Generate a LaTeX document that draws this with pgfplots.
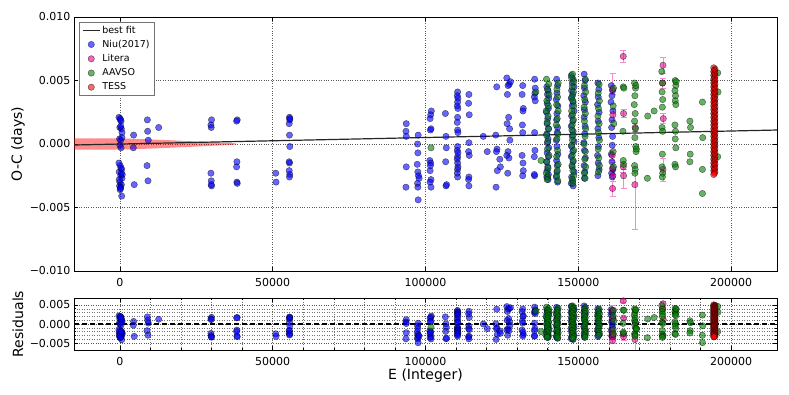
\documentclass[border=0pt]{standalone}
\usepackage{pgfplots}
\pgfplotsset{compat=1.18}
\usepackage{pgfplotstable}
\usepackage{fontspec}
\setmainfont{DejaVu Sans}

% O-C values in units of 1e-3 days
\pgfplotstableread[row sep=\\]{
x y\\
-300 2.1\\ 100 2.0\\ 400 1.8\\ 0 1.3\\ 500 1.2\\ 700 0.9\\ -100 0.4\\ 300 0.3\\ 0 -0.1\\ 400 -0.3\\
100 -1.7\\ 600 -2.0\\ -200 -2.2\\ 300 -2.5\\ 700 -2.7\\ 0 -3.0\\ 500 -3.2\\ -100 -3.3\\ 300 -3.4\\ 100 -3.6\\
600 -4.1\\ 200 1.9\\ 800 -2.4\\ -300 -1.5\\ 700 0.5\\ 200 -3.5\\ 500 -2.3\\ 300 1.4\\ -200 -2.8\\ 400 -1.9\\
4500 0.7\\ 4400 -0.3\\ 4700 -3.2\\
9000 1.9\\ 9100 1.0\\ 9300 0.3\\ 8900 -1.7\\ 9200 -2.9\\
12700 1.3\\
30000 1.9\\ 29800 1.5\\ 29900 1.3\\ 29800 -2.3\\ 29900 -2.9\\ 30000 -3.3\\ 29900 -3.2\\
38400 1.9\\ 38200 1.8\\ 38300 -1.4\\ 38200 -1.8\\ 38300 -3.0\\ 38400 -3.1\\
51000 -2.3\\ 51100 -3.0\\
55500 2.1\\ 55600 1.9\\ 55400 1.6\\ 55500 0.7\\ 55600 -0.2\\ 55500 -1.5\\ 55400 -2.1\\ 55600 -2.4\\ 55500 -2.6\\ 55600 2.0\\ 55400 -1.4\\
93700 1.6\\ 93600 1.0\\ 93700 0.6\\ 93700 -1.8\\ 93600 -3.4\\
97600 0.7\\ 97400 0.0\\ 97500 -0.7\\ 97300 -1.6\\ 97500 -2.2\\ 97700 -2.5\\ 97400 -3.1\\ 97500 -3.4\\ 97600 -4.4\\ 97900 -2.7\\
101900 2.6\\ 101700 2.3\\ 101500 2.0\\ 101800 1.2\\ 101600 1.1\\ 101400 -1.3\\ 101700 -1.5\\ 101500 -2.1\\ 101800 -2.8\\ 101500 -3.0\\ 101800 -3.4\\ 101600 -1.7\\
106500 2.4\\ 106700 0.6\\ 106800 -0.3\\ 106600 -1.4\\ 106700 -3.3\\ 106900 -3.2\\
110500 4.1\\ 110400 3.8\\ 110600 3.6\\ 110500 3.3\\ 110400 3.0\\ 110600 2.8\\ 110500 2.1\\ 110400 1.7\\ 110500 1.1\\ 110600 0.9\\
110500 -0.2\\ 110400 -0.5\\ 110600 -0.7\\ 110500 -1.0\\ 110400 -1.2\\ 110500 -1.5\\ 110600 -1.8\\ 110500 -2.0\\ 110400 -2.3\\ 110500 -2.6\\
114200 3.9\\ 114100 3.2\\ 114300 2.3\\ 114200 0.1\\ 114100 -0.6\\ 114300 -0.9\\ 114200 -2.6\\ 114100 -2.8\\ 114200 -3.3\\
118900 0.6\\ 120200 -0.6\\
123300 4.5\\ 123000 0.7\\ 123400 -0.4\\ 123200 -0.6\\ 123500 -2.1\\ 123100 -3.4\\ 124300 -1.2\\ 124500 -1.8\\
126600 5.2\\ 127400 4.7\\ 127000 4.6\\ 126800 3.9\\ 127200 2.1\\ 126700 1.6\\ 127500 1.2\\ 127000 -0.6\\ 126600 -0.9\\ 127300 -1.1\\ 126900 -2.3\\ 127800 4.9\\ 127600 0.3\\
131800 4.6\\ 131600 3.9\\ 132000 2.8\\ 131900 2.6\\ 131700 1.5\\ 131800 0.9\\ 131600 -0.9\\ 132000 -2.1\\ 131800 -2.5\\ 131900 -1.5\\
135700 5.1\\ 135600 3.7\\ 135900 3.4\\ 135700 0.9\\ 135800 -0.5\\ 135600 -1.0\\ 135700 -2.5\\ 135900 4.4\\ 135800 4.0\\ 135600 -2.4\\
139700 4.5\\ 140100 4.2\\ 139900 3.9\\ 140300 3.6\\ 139800 3.2\\ 140200 2.8\\ 139600 2.5\\ 140000 2.0\\ 139800 1.6\\ 140200 1.2\\ 139700 0.8\\
140100 0.4\\ 139900 0.1\\ 140300 -0.3\\ 139800 -0.7\\ 140200 -1.0\\ 139600 -1.4\\ 140000 -1.8\\ 139800 -2.1\\ 140200 -2.4\\ 139700 -2.6\\ 140100 -2.8\\
142900 5.1\\ 143200 4.6\\ 143000 4.0\\ 142800 3.5\\ 143300 3.0\\ 143000 2.4\\ 142900 1.9\\ 143200 1.3\\ 143100 0.9\\ 142800 0.3\\
143000 -0.2\\ 143300 -0.8\\ 142900 -1.3\\ 143100 -1.7\\ 143000 -2.2\\ 142800 -2.6\\ 143200 -3.0\\
147700 5.4\\ 148300 5.1\\ 148000 4.8\\ 148600 4.5\\ 147800 4.2\\ 148200 3.9\\ 147700 3.6\\ 148300 3.3\\ 148000 3.0\\ 148600 2.6\\ 147800 2.2\\ 148200 1.8\\ 147700 1.4\\
148300 1.0\\ 148000 0.6\\ 148600 0.2\\ 147800 -0.2\\ 148200 -0.6\\ 147700 -1.0\\ 148300 -1.4\\ 148000 -1.8\\ 148600 -2.2\\ 147800 -2.6\\ 148200 -2.9\\ 147700 -3.1\\ 148300 -3.3\\
151900 5.5\\ 152200 5.0\\ 152000 4.4\\ 151800 3.8\\ 152300 3.3\\ 152000 2.7\\ 151900 2.1\\ 152200 1.4\\ 152100 0.8\\ 151800 0.1\\ 152000 -0.5\\ 152300 -1.1\\ 151900 -1.7\\ 152100 -2.2\\ 152000 -2.7\\
156400 4.8\\ 156700 4.3\\ 156500 3.7\\ 156300 3.1\\ 156800 2.5\\ 156500 1.8\\ 156400 1.2\\ 156700 0.5\\ 156600 -0.2\\ 156300 -0.9\\ 156500 -1.5\\ 156800 -2.0\\ 156400 -2.5\\
160800 4.6\\ 161200 4.2\\ 161000 3.8\\ 160700 3.3\\ 161300 2.6\\ 161000 1.9\\ 160900 1.3\\ 161200 0.6\\ 161100 -0.1\\ 160800 -0.8\\ 161000 -1.4\\ 161300 -2.0\\ 160900 -2.3\\ 161100 -2.6\\
}\niu

\pgfplotstableread[row sep=\\]{
x y ep em\\
161200 4.3 1.3 0.4\\ 161300 2.3 0.4 0.4\\ 161100 -0.9 0.4 0.4\\ 161200 -1.9 0.5 0.5\\ 161300 -2.5 0.4 0.4\\ 161200 -3.5 0.6 0.6\\
164700 6.9 0.5 0.5\\ 164800 2.4 0.3 0.3\\ 164700 -1.8 0.4 0.4\\ 164800 -2.5 0.5 1.0\\
168600 1.3 0.3 0.3\\ 168500 -3.2 0.9 3.5\\
177700 6.2 0.6 0.6\\ 177600 4.8 0.4 0.4\\ 177800 2.0 0.4 0.4\\ 177700 -2.0 0.9 0.9\\
}\litera

\pgfplotstableread[row sep=\\]{
x y\\
101800 -0.3\\ 136100 4.1\\ 137800 -1.3\\
139600 5.1\\ 140300 4.7\\ 139900 4.3\\ 140400 3.9\\ 139700 3.4\\ 140200 3.0\\ 139500 2.6\\ 140100 2.2\\ 139800 1.7\\ 140300 1.2\\
139600 0.7\\ 140000 0.2\\ 139900 -0.4\\ 140400 -0.9\\ 139700 -1.4\\ 140100 -1.9\\ 139500 -2.3\\ 140000 -2.6\\ 139800 -2.8\\
143400 4.8\\ 143000 4.3\\ 143200 3.7\\ 142900 3.1\\ 143400 2.6\\ 143100 2.0\\ 142800 1.5\\ 143300 0.8\\ 143000 0.4\\ 143200 -0.5\\
142900 -1.0\\ 143400 -1.6\\ 143100 -2.1\\ 142900 -2.5\\ 143300 -2.9\\
148100 5.5\\ 147800 5.2\\ 148500 4.9\\ 148000 4.5\\ 148400 4.1\\ 147900 3.7\\ 148200 3.4\\ 148500 3.0\\ 147800 2.6\\ 148100 2.3\\ 148400 1.9\\ 148000 1.5\\
147900 1.1\\ 148300 0.7\\ 148100 0.3\\ 147800 -0.1\\ 148500 -0.5\\ 148000 -0.9\\ 148300 -1.3\\ 147900 -1.7\\ 148200 -2.1\\ 148500 -2.5\\ 148000 -2.8\\ 148200 -3.1\\
152300 5.1\\ 152000 4.6\\ 152400 4.1\\ 152100 3.5\\ 151900 2.9\\ 152300 2.4\\ 152000 1.8\\ 152400 1.2\\ 152200 0.6\\ 151900 0.0\\ 152300 -0.6\\ 152100 -1.2\\ 152400 -1.8\\ 152000 -2.3\\ 152200 -2.7\\
156800 4.7\\ 156500 4.0\\ 156900 3.4\\ 156600 2.8\\ 156400 2.2\\ 156800 1.6\\ 156600 0.9\\ 156900 0.3\\ 156500 -0.4\\ 156700 -1.1\\ 156900 -1.7\\ 156600 -2.2\\
161500 4.4\\ 161400 3.0\\ 161600 1.6\\ 161400 -0.6\\ 161500 -1.8\\
164700 4.5\\ 164900 4.4\\ 164600 1.0\\ 164800 -1.6\\ 164700 -1.3\\
168400 4.8\\ 168700 4.4\\ 168500 3.8\\ 168300 3.1\\ 168600 2.4\\ 168400 1.8\\ 168700 1.2\\ 168500 0.5\\ 168800 -0.2\\ 168900 -0.6\\ 168400 -1.7\\ 168600 -2.0\\ 168500 -2.3\\ 168800 4.6\\ 169000 -0.4\\
172700 2.2\\ 172600 -2.7\\ 174800 2.6\\
177300 5.7\\ 177500 4.8\\ 177400 4.1\\ 177600 3.5\\ 177500 2.9\\ 177400 1.3\\ 177600 1.0\\ 177500 -0.8\\ 177400 -1.8\\ 177600 -2.3\\ 177500 -2.6\\
181700 5.0\\ 181900 4.6\\ 181600 4.2\\ 181800 3.8\\ 181700 3.4\\ 181900 3.1\\ 181600 1.5\\ 181800 1.0\\ 181700 0.4\\ 181900 -0.3\\ 181600 -1.6\\ 181800 -1.8\\ 182000 4.9\\
186500 1.8\\ 186700 1.3\\ 186600 -0.8\\ 186500 -1.4\\
190600 3.3\\ 190700 0.5\\ 190600 -2.0\\ 190600 -3.9\\
195600 5.6\\ 195700 4.1\\ 195600 -1.0\\
}\aavso

\pgfplotstableread[row sep=\\]{
x y\\
194300 6.0\\ 194700 5.9\\ 194500 5.8\\ 194300 5.7\\ 194700 5.6\\ 194500 5.5\\ 194300 5.4\\ 194700 5.3\\ 194500 5.2\\ 194300 5.1\\
194700 5.0\\ 194500 4.9\\ 194300 4.8\\ 194700 4.7\\ 194500 4.6\\ 194300 4.5\\ 194700 4.4\\ 194500 4.3\\ 194300 4.2\\ 194700 4.1\\
194500 4.0\\ 194300 3.9\\ 194700 3.8\\ 194500 3.7\\ 194300 3.6\\ 194700 3.5\\ 194500 3.4\\ 194300 3.3\\ 194700 3.2\\ 194500 3.1\\
194300 3.0\\ 194700 2.9\\ 194500 2.8\\ 194300 2.7\\ 194700 2.6\\ 194500 2.5\\ 194300 2.4\\ 194700 2.3\\ 194500 2.2\\ 194300 2.1\\
194700 2.0\\ 194500 1.9\\ 194300 1.8\\ 194700 1.7\\ 194500 1.6\\ 194300 1.5\\ 194700 1.4\\ 194500 1.3\\ 194300 1.2\\ 194700 1.1\\
194500 1.0\\ 194300 0.9\\ 194700 0.8\\ 194500 0.7\\ 194300 0.6\\ 194700 0.5\\ 194500 0.4\\ 194300 0.3\\ 194700 0.2\\ 194500 0.1\\
194300 0.0\\ 194700 -0.1\\ 194500 -0.2\\ 194300 -0.3\\ 194700 -0.4\\ 194500 -0.5\\ 194300 -0.6\\ 194700 -0.7\\ 194500 -0.8\\ 194300 -0.9\\
194700 -1.0\\ 194500 -1.1\\ 194300 -1.2\\ 194700 -1.3\\ 194500 -1.4\\ 194300 -1.5\\ 194700 -1.6\\ 194500 -1.7\\ 194300 -1.8\\ 194700 -1.9\\
194500 -2.0\\ 194300 -2.1\\ 194700 -2.2\\ 194500 -2.3\\ 194300 -2.4\\
}\tess

\pgfplotsset{
  ocbase/.style={
    scale only axis, width=703pt,
    xmin=-15000, xmax=215000,
    xtick={0,50000,100000,150000,200000},
    scaled x ticks=false,
    xticklabel style={/pgf/number format/fixed,/pgf/number format/1000 sep={}, yshift=-4pt},
    /pgf/number format/assume math mode=true,
    tick label style={font=\fontsize{11}{13}\selectfont},
    label style={font=\fontsize{14}{16}\selectfont},
    tick align=inside, major tick length=4pt, minor tick length=2pt,
    axis line style={line width=0.9pt},
    tick style={line width=0.6pt, black},
    grid style={black!65, dotted, line width=0.5pt},
  },
  niu/.style={only marks, mark=*, mark size=3.2pt,
    mark options={fill=blue, draw=black, fill opacity=0.6, draw opacity=0.6, line width=0.4pt}},
  lit/.style={only marks, mark=*, mark size=3.2pt,
    mark options={fill=magenta, draw=black, fill opacity=0.6, draw opacity=0.6, line width=0.4pt},
    error bars/.cd, y dir=both, y explicit,
    error bar style={magenta!45, line width=0.5pt},
    error mark options={rotate=90, magenta!45, mark size=3pt, line width=0.5pt}},
  aav/.style={only marks, mark=*, mark size=3.2pt,
    mark options={fill=green!50!black, draw=black, fill opacity=0.6, draw opacity=0.6, line width=0.4pt}},
  tes/.style={only marks, mark=*, mark size=3.2pt,
    mark options={fill=red, draw=black, fill opacity=0.6, draw opacity=0.6, line width=0.4pt}},
}

\begin{document}
\begin{tikzpicture}
\useasboundingbox (0,0) rectangle (789pt,395pt);

\begin{axis}[ocbase,
  at={(74pt,124pt)}, anchor=south west, height=254pt,
  ymin=-10, ymax=10,
  ytick={-10,-5,0,5,10},
  yticklabels={−0.010,−0.005,0.000,0.005,0.010},
  xmajorgrids, ymajorgrids,
  ylabel={O-C (days)},
  ylabel style={at={(axis description cs:-0.0797,0.5)}, anchor=center},
  legend style={at={(0.007,0.982)}, anchor=north west,
    font=\fontsize{9.5}{11}\selectfont, draw=black!55, line width=0.5pt,
    inner xsep=3pt, inner ysep=2pt, row sep=1.6pt},
  legend cell align=left,
  legend image post style={line width=1.1pt},
]
\addplot[fill=red, fill opacity=0.45, draw=none, forget plot] coordinates {
  (-15000,0.45) (0,0.44) (8000,0.38) (16000,0.3) (24000,0.21) (31000,0.13) (38000,0.05)
  (38000,-0.05) (31000,-0.13) (24000,-0.21) (16000,-0.3) (8000,-0.38) (0,-0.44) (-15000,-0.45)
} -- cycle;
\addplot[black!85, line width=1.2pt] coordinates {(-15000,-0.08) (215000,1.10)};
\addlegendentry{best fit}
\addplot[niu] table[x=x,y=y]{\niu};
\addlegendentry{Niu(2017)}
\addplot[lit] table[x=x,y=y,y error plus=ep,y error minus=em]{\litera};
\addlegendentry{Litera}
\addplot[aav] table[x=x,y=y]{\aavso};
\addlegendentry{AAVSO}
\addplot[tes] table[x=x,y=y]{\tess};
\addlegendentry{TESS}
\end{axis}

\begin{axis}[ocbase,
  at={(74pt,45pt)}, anchor=south west, height=52pt,
  ymin=-6.8, ymax=6.8,
  ytick={-5,0,5},
  yticklabels={−0.005,0.000,0.005},
  minor x tick num=4, minor y tick num=4,
  grid=both, minor grid style={black!55, dotted, line width=0.4pt},
  ylabel={Residuals},
  ylabel style={at={(axis description cs:-0.0797,0.5)}, anchor=center},
  xlabel={E (Integer)},
  xlabel style={at={(axis description cs:0.5,-0.5)}, anchor=center},
]
\addplot[niu] table[x=x,y expr=\thisrow{y}-0.0000051*\thisrow{x}]{\niu};
\addplot[lit] table[x=x,y expr=\thisrow{y}-0.0000051*\thisrow{x},y error plus=ep,y error minus=em]{\litera};
\addplot[aav] table[x=x,y expr=\thisrow{y}-0.0000051*\thisrow{x}]{\aavso};
\addplot[tes] table[x=x,y expr=\thisrow{y}-0.0000051*\thisrow{x}]{\tess};
\addplot[black, line width=1.5pt, dash pattern=on 5pt off 3pt] coordinates {(-15000,0) (215000,0)};
\end{axis}
\end{tikzpicture}
\end{document}
